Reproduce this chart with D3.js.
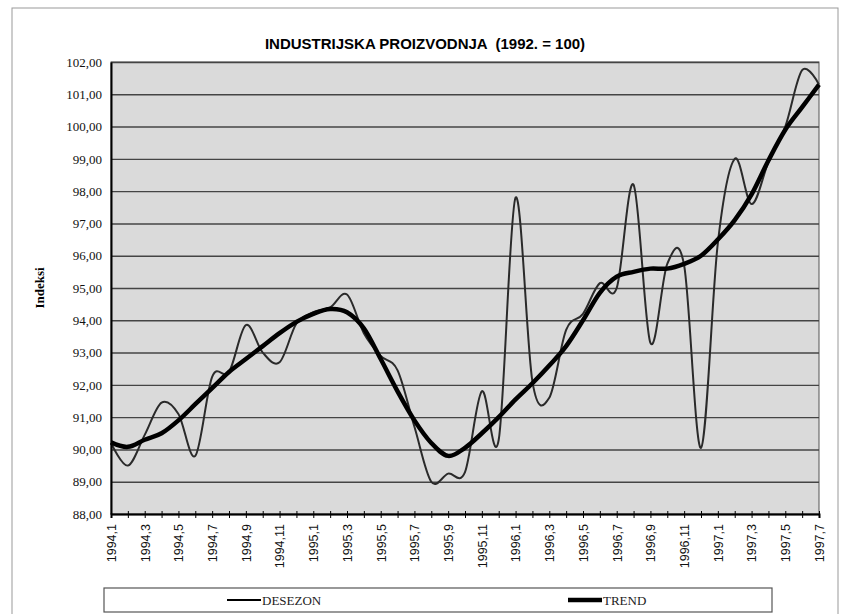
<!DOCTYPE html>
<html>
<head>
<meta charset="utf-8">
<script src="https://cdn.jsdelivr.net/npm/d3@7"></script>
<style>
  body { margin: 0; background: #fff; }
</style>
</head>
<body>
<svg width="847" height="614"></svg>
<script>
// mjeseci 1994,1 - 1997,7
var months = ["1994,1","1994,2","1994,3","1994,4","1994,5","1994,6","1994,7","1994,8","1994,9","1994,10","1994,11","1994,12",
              "1995,1","1995,2","1995,3","1995,4","1995,5","1995,6","1995,7","1995,8","1995,9","1995,10","1995,11","1995,12",
              "1996,1","1996,2","1996,3","1996,4","1996,5","1996,6","1996,7","1996,8","1996,9","1996,10","1996,11","1996,12",
              "1997,1","1997,2","1997,3","1997,4","1997,5","1997,6","1997,7"];

var desezon = [90.2, 89.5, 90.45, 91.45, 91.1, 89.8, 92.25, 92.4, 93.85, 93.0, 92.7, 93.9,
               94.25, 94.4, 94.8, 93.6, 92.9, 92.45, 90.7, 89.0, 89.25, 89.3, 91.8, 90.3,
               97.8, 92.1, 91.6, 93.7, 94.2, 95.15, 95.0, 98.2, 93.3, 95.75, 95.7, 90.05,
               96.4, 99.0, 97.6, 98.9, 100.0, 101.75, 101.3];

var trend = [90.22, 90.08, 90.3, 90.5, 90.9, 91.4, 91.9, 92.4, 92.8, 93.2, 93.6, 93.95,
             94.2, 94.35, 94.25, 93.75, 92.8, 91.8, 90.9, 90.2, 89.8, 90.05, 90.5, 91.0,
             91.55, 92.05, 92.6, 93.2, 94.0, 94.85, 95.35, 95.5, 95.6, 95.6, 95.75, 96.0,
             96.5, 97.1, 97.9, 98.95, 99.9, 100.6, 101.3];

var yTicks = d3.range(88, 103, 1);
var seriesNames = ["DESEZON", "TREND"];

var svg = d3.select("svg"),
    margin = {top: 62, right: 28, bottom: 100, left: 111},
    width = 819 - margin.left,
    height = 514 - margin.top,
    g = svg.append("g").attr("transform", "translate(" + margin.left + "," + margin.top + ")");

// okvir grafikona
svg.append("rect")
    .attr("x", 12).attr("y", 8)
    .attr("width", 826).attr("height", 620)
    .attr("fill", "none")
    .attr("stroke", "#999")
    .attr("stroke-width", 1);

var x = d3.scalePoint().domain(months).range([0, width]),
    y = d3.scaleLinear().domain([88, 102]).range([height, 0]);

g.append("rect")
    .attr("width", width)
    .attr("height", height)
    .attr("fill", "#dadada")
    .attr("stroke", "#555")
    .attr("stroke-width", 1);

g.append("g")
    .attr("class", "grid")
    .call(d3.axisLeft(y).tickValues(yTicks).tickSize(-width).tickFormat(""))
    .call(function(s) { s.select(".domain").remove(); })
    .selectAll("line")
      .attr("stroke", "#444")
      .attr("stroke-width", 1.4);

var line = d3.line()
    .curve(d3.curveCardinal.tension(0))
    .x(function(d, i) { return x(months[i]); })
    .y(function(d) { return y(d); });

g.append("path")
    .datum(desezon)
    .attr("fill", "none")
    .attr("stroke", "#2a2a2a")
    .attr("stroke-width", 2)
    .attr("d", line);

g.append("path")
    .datum(trend)
    .attr("fill", "none")
    .attr("stroke", "#000")
    .attr("stroke-width", 4.5)
    .attr("d", line);

var yAxis = g.append("g")
    .call(d3.axisLeft(y).tickValues(yTicks).tickSize(0).tickPadding(9)
      .tickFormat(function(d) { return d3.format(".2f")(d).replace(".", ","); }));
yAxis.select(".domain").attr("stroke", "#000").attr("stroke-width", 2);
yAxis.selectAll("text")
    .style("font", "13px 'Liberation Serif', serif")
    .attr("fill", "#111");

var xAxis = g.append("g")
    .attr("transform", "translate(0," + height + ")")
    .call(d3.axisBottom(x).tickSize(4).tickPadding(8)
      .tickFormat(function(d, i) { return i % 2 === 0 ? d : ""; }));
xAxis.select(".domain").attr("stroke", "#000").attr("stroke-width", 2);
xAxis.selectAll(".tick line").attr("stroke", "#000").attr("y1", -3);
xAxis.selectAll("text")
    .style("font", "12.5px 'Liberation Sans', Arial, sans-serif")
    .attr("fill", "#111")
    .attr("transform", "rotate(-90)")
    .attr("x", -10)
    .attr("y", 0)
    .attr("dy", "0.35em")
    .style("text-anchor", "end");

svg.append("text")
    .attr("x", 425)
    .attr("y", 49)
    .attr("text-anchor", "middle")
    .style("white-space", "pre")
    .style("font", "bold 15px 'Liberation Sans', Arial, sans-serif")
    .text("INDUSTRIJSKA PROIZVODNJA  (1992. = 100)");

svg.append("text")
    .attr("transform", "translate(44,288) rotate(-90)")
    .attr("text-anchor", "middle")
    .style("font", "bold 13px 'Liberation Serif', serif")
    .text("Indeksi");

// legenda
var legend = svg.append("g").attr("transform", "translate(104,588)");
legend.append("rect")
    .attr("width", 668)
    .attr("height", 24)
    .attr("fill", "#fff")
    .attr("stroke", "#555")
    .attr("stroke-width", 1.2);

var item = legend.selectAll(".item")
    .data(seriesNames)
  .enter().append("g")
    .attr("class", "item")
    .attr("transform", function(d, i) { return "translate(" + (123 + i * 341) + ",12)"; });

item.append("line")
    .attr("x1", 0).attr("x2", 34)
    .attr("stroke", "#000")
    .attr("stroke-width", function(d, i) { return i === 0 ? 2 : 4.5; });

item.append("text")
    .attr("x", 35)
    .attr("dy", "0.38em")
    .style("font", "13px 'Liberation Serif', serif")
    .attr("fill", "#222")
    .text(function(d) { return d; });
</script>
</body>
</html>
